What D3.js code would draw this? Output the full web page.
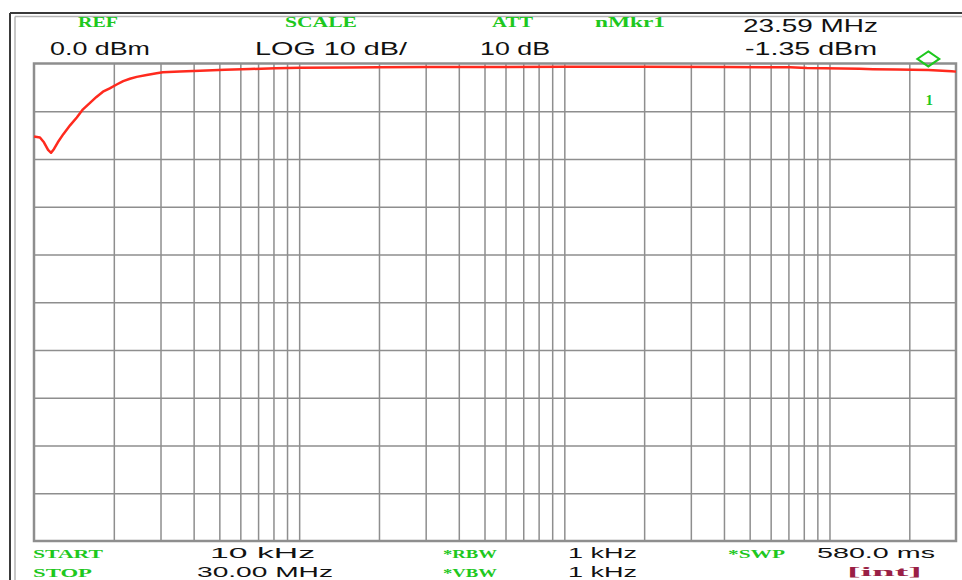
<!DOCTYPE html>
<html>
<head>
<meta charset="utf-8">
<script src="https://cdn.jsdelivr.net/npm/d3@7/dist/d3.min.js"></script>
<style>
  html, body { margin: 0; padding: 0; background: #ffffff; }
  svg { display: block; }
</style>
</head>
<body>
<svg id="screen" width="962" height="580"></svg>
<script>
// Sweep settings
const startHz = 1e4;
const stopHz = 3e7;
const refLevel = 0;      // dBm at top graticule line
const dbPerDiv = 10;
const divisions = 10;

// Measured trace: frequency (Hz) and level (dBm)
const traceFreq = [
  10000, 10530, 10900, 11300, 11600, 11900, 12300, 12900, 13700, 14500,
  15300, 16300, 17200, 18200, 19300, 20500, 21700, 23000, 24400, 26600,
  29000, 30600, 35500, 42300, 52500, 65400, 81700, 100700, 150000, 200000,
  300000, 500000, 1000000, 1928000, 4000000, 7100000, 8220000, 13000000,
  14600000, 17950000, 23590000, 28900000, 30000000
];
const traceLevel = [
  -15.3, -15.5, -16.5, -18.1, -18.7, -17.9, -16.5, -14.8, -12.9, -11.3,
  -9.6, -8.2, -7.0, -5.9, -5.2, -4.4, -3.7, -3.2, -2.8, -2.4,
  -2.05, -1.85, -1.7, -1.5, -1.3, -1.15, -1.0, -0.9, -0.85, -0.8,
  -0.75, -0.72, -0.7, -0.7, -0.72, -0.8, -0.95, -1.1,
  -1.2, -1.28, -1.35, -1.6, -1.7
];

// Marker 1
const markerHz = 23.59e6;
const markerDbm = -1.35;

// Graticule frequencies (1-2-...-9 per decade, inner lines only)
const gridFreqs = [];
[1e4, 1e5, 1e6, 1e7].forEach(dec => {
  for (let m = 1; m <= 9; m++) {
    const f = m * dec;
    if (f > startHz && f < stopHz) gridFreqs.push(f);
  }
});

// Annotation texts
const headerLabels = ["REF", "SCALE", "ATT", "nMkr1"];
const headerValues = ["0.0 dBm", "LOG 10 dB/", "10 dB", "-1.35 dBm"];
const markerFreqText = "23.59 MHz";
const footerLabels1 = ["START", "*RBW", "*SWP"];
const footerValues1 = ["10 kHz", "1 kHz", "580.0 ms"];
const footerLabels2 = ["STOP", "*VBW"];
const footerValues2 = ["30.00 MHz", "1 kHz", "[int]"];

const svg = d3.select("#screen");

const plot = { left: 34, right: 956, top: 63.5, bottom: 541 };

const x = d3.scaleLog().domain([startHz, stopHz]).range([plot.left, plot.right]);
const y = d3.scaleLinear()
  .domain([refLevel - dbPerDiv * divisions, refLevel])
  .range([plot.bottom, plot.top]);

const green = "#1ec81e";
const gridColor = "#8e8e8e";

// Instrument screen frame
svg.append("line").attr("x1", 10).attr("y1", 13).attr("x2", 962).attr("y2", 13)
  .attr("stroke", "#3a3a3a").attr("stroke-width", 2);
svg.append("line").attr("x1", 10).attr("y1", 13).attr("x2", 10).attr("y2", 580)
  .attr("stroke", "#3a3a3a").attr("stroke-width", 2);
svg.append("line").attr("x1", 15).attr("y1", 16.5).attr("x2", 962).attr("y2", 16.5)
  .attr("stroke", "#b4b4b4").attr("stroke-width", 1.5);
svg.append("line").attr("x1", 15).attr("y1", 16.5).attr("x2", 15).attr("y2", 580)
  .attr("stroke", "#b4b4b4").attr("stroke-width", 1.5);

// Graticule
const gridG = svg.append("g");
const vGrid = d3.axisBottom(x)
  .tickValues(gridFreqs)
  .tickSize(-(plot.bottom - plot.top))
  .tickFormat("");
gridG.append("g")
  .attr("transform", `translate(0,${plot.bottom})`)
  .call(vGrid)
  .call(g => g.select(".domain").remove())
  .call(g => g.selectAll(".tick line").attr("stroke", gridColor).attr("stroke-width", 1.5));

const levelTicks = d3.range(1, divisions).map(i => refLevel - i * dbPerDiv);
const hGrid = d3.axisLeft(y)
  .tickValues(levelTicks)
  .tickSize(-(plot.right - plot.left))
  .tickFormat("");
gridG.append("g")
  .attr("transform", `translate(${plot.left},0)`)
  .call(hGrid)
  .call(g => g.select(".domain").remove())
  .call(g => g.selectAll(".tick line").attr("stroke", gridColor).attr("stroke-width", 1.5));

gridG.append("rect")
  .attr("x", plot.left).attr("y", plot.top)
  .attr("width", plot.right - plot.left).attr("height", plot.bottom - plot.top)
  .attr("fill", "none").attr("stroke", gridColor).attr("stroke-width", 2.5);

// Trace
const trace = traceFreq.map((f, i) => [f, traceLevel[i]]);
svg.append("path")
  .datum(trace)
  .attr("fill", "none")
  .attr("stroke", "#ff2a1e")
  .attr("stroke-width", 2.5)
  .attr("stroke-linejoin", "round")
  .attr("d", d3.line().x(d => x(d[0])).y(d => y(d[1])));

// Marker diamond above the trace and its number
const mx = x(markerHz);
const my = y(markerDbm) - 11;
svg.append("path")
  .attr("d", `M${mx},${my - 7.5} L${mx + 11},${my} L${mx},${my + 7.5} L${mx - 11},${my} Z`)
  .attr("fill", "none").attr("stroke", green).attr("stroke-width", 2);
svg.append("text")
  .attr("x", mx + 1).attr("y", 105)
  .attr("text-anchor", "middle")
  .attr("font-family", "'Liberation Serif', serif").attr("font-weight", "bold")
  .attr("font-size", 15).attr("fill", green)
  .text("1");

// Text helper: fixed start and width, like the instrument's bitmap font
function label(txt, x0, base, w, kind, size) {
  const t = svg.append("text")
    .attr("x", x0).attr("y", base)
    .attr("textLength", w).attr("lengthAdjust", "spacingAndGlyphs")
    .text(txt);
  if (kind === "green") {
    t.attr("font-family", "'Liberation Serif', serif").attr("font-weight", "bold")
      .attr("font-size", size || 14).attr("fill", green);
  } else if (kind === "maroon") {
    t.attr("font-family", "'Liberation Serif', serif").attr("font-weight", "bold")
      .attr("font-size", size || 14).attr("fill", "#9a1f45");
  } else {
    t.attr("font-family", "'Liberation Sans', Arial, sans-serif")
      .attr("font-size", size || 18).attr("fill", "#111111");
  }
  return t;
}

// Header
const hdrX = [78, 285, 492, 595];
const hdrW = [40, 72, 41, 70];
headerLabels.forEach((s, i) => label(s, hdrX[i], 27, hdrW[i], "green"));
label(markerFreqText, 743, 32, 135, "black");
const valX = [50, 255, 480, 745];
const valW = [100, 152, 70, 132];
headerValues.forEach((s, i) => label(s, valX[i], 55, valW[i], "black"));

// Footer
const f1LX = [33, 443, 728], f1LW = [70, 54, 57];
footerLabels1.forEach((s, i) => label(s, f1LX[i], 558, f1LW[i], "green", 13));
const f1VX = [210, 568, 817], f1VW = [105, 69, 118];
footerValues1.forEach((s, i) => label(s, f1VX[i], 558, f1VW[i], "black", 15));

const f2LX = [33, 443], f2LW = [59, 54];
footerLabels2.forEach((s, i) => label(s, f2LX[i], 577, f2LW[i], "green", 13));
label(footerValues2[0], 197, 577, 136, "black", 15);
label(footerValues2[1], 568, 577, 69, "black", 15);
label(footerValues2[2], 847, 576, 75, "maroon", 13);
</script>
</body>
</html>
